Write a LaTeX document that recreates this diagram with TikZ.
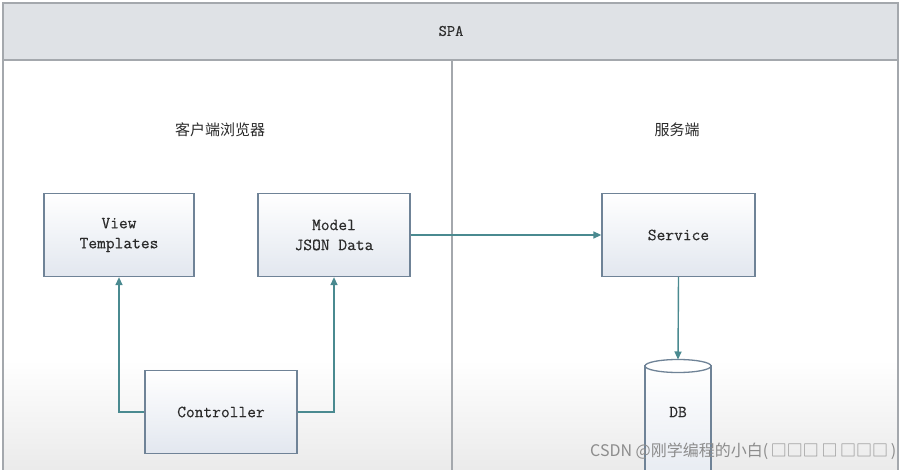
\documentclass[tikz,border=0pt]{standalone}
\usepackage{fontspec}
\newfontfamily\cjk{Noto Sans CJK SC}
\newfontfamily\boxmono[FakeBold=0.35]{Latin Modern Mono}
\usetikzlibrary{arrows.meta}
\definecolor{boxline}{HTML}{6F8397}
\definecolor{boxfill}{HTML}{E2E7EF}
\definecolor{arrowc}{HTML}{4A8A90}
\definecolor{frame}{HTML}{A4A8AD}
\definecolor{headfill}{HTML}{DFE2E6}
\definecolor{txt}{HTML}{2A2A2A}
\tikzset{
  box/.style={draw=boxline, line width=1.3pt, top color=white, bottom color=boxfill,
    minimum width=152pt, minimum height=83pt, inner sep=0pt, align=center,
    font=\fontsize{17}{20}\selectfont\boxmono, text=txt},
  conn/.style={draw=arrowc, line width=1.4pt, -{Triangle[length=8pt,width=7pt]}},
  lbl/.style={font=\fontsize{15}{18}\selectfont\cjk, text=txt},
}
\begin{document}
\begin{tikzpicture}[x=1pt,y=-1pt]
\useasboundingbox (0,0) rectangle (902,470);
\fill[white] (0,0) rectangle (902,470);
\shade[top color=white, bottom color=black!8] (3,360) rectangle (898,470);
% header
\draw[draw=frame, fill=headfill, line width=1.8pt] (3,3) rectangle (898,60);
\node[font=\fontsize{16}{18}\selectfont\boxmono, text=txt] (spa) at (451,31) {SPA};
% frame lines
\draw[frame, line width=1.8pt] (3,60) -- (3,472);
\draw[frame, line width=1.8pt] (898,60) -- (898,472);
\draw[frame, line width=1.8pt] (452,60) -- (452,472);
% section labels
\node[lbl] (client) at (220,130) {客户端浏览器};
\node[lbl] (server) at (677,130) {服务端};
% boxes
\node[box, minimum width=150pt] (view) at (119,235) {View\\Templates};
\node[box] (model) at (334,235) {Model\\JSON Data};
\node[box, minimum width=153pt] (service) at (678.5,235) {Service};
\node[box] (ctrl) at (221,412) {Controller};
% DB cylinder
\begin{scope}
\clip (0,0) rectangle (902,470);
\draw[boxline, line width=1.3pt, top color=white, bottom color=boxfill]
  (645,366) -- (645,500) -- (711,500) -- (711,366) -- cycle;
\draw[boxline, line width=1.3pt, fill=white] (678,366) ellipse [x radius=33, y radius=6.5];
\end{scope}
\node[font=\fontsize{17}{20}\selectfont\boxmono, text=txt] (db) at (678,412) {DB};
\coordinate (dbtop) at (678,359.5);
% connectors
\draw[conn] (ctrl.west) -| (view.south);
\draw[conn] (ctrl.east) -| (model.south);
\draw[conn] (model.east) -- (service.west);
\draw[conn] (service.south) -- (dbtop);
% watermark
\node[anchor=west, inner sep=0pt, font=\fontsize{16}{18}\selectfont\cjk, text=black!45] (wm) at (590,451)
  {CSDN @刚学编程的小白(\,□□□\,□\,□□□\,)};
\end{tikzpicture}
\end{document}
